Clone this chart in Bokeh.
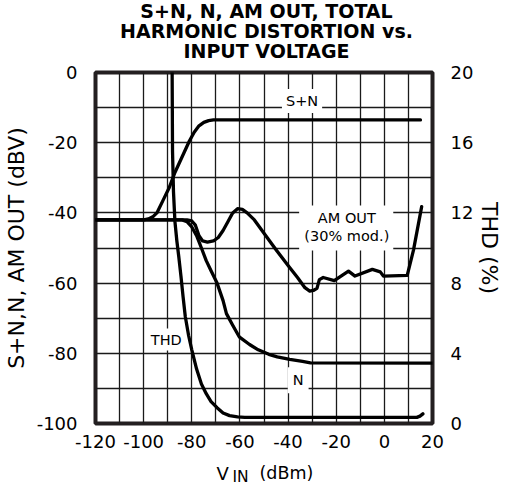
from bokeh.plotting import figure
from bokeh.models import Range1d, LinearAxis, FixedTicker, Label, BoxAnnotation
from bokeh.layouts import column
from bokeh.embed import file_html
from bokeh.resources import INLINE

# ---------------- data ----------------
x_ticks = [-120, -100, -80, -60, -40, -20, 0, 20]
x_grid = [-120, -110, -100, -90, -80, -70, -60, -50, -40, -30, -20, -10, 0, 10, 20]
y_ticks = [-100, -80, -60, -40, -20, 0]
y_grid = [-100, -90, -80, -70, -60, -50, -40, -30, -20, -10, 0]
thd_ticks = [0, 4, 8, 12, 16, 20]

sn_x = [-120, -100, -98, -96, -94.5, -92, -89.5, -87, -84, -81, -79, -77, -75, -73, -71, 15]
sn_y = [-42, -42, -41.7, -41, -40, -36.5, -33, -28.5, -24, -19.5, -17, -15.2, -14.2, -13.7, -13.5, -13.5]

am_x = [-120, -82, -80, -78.5, -77, -75.5, -73.5, -71, -69, -67, -65, -63, -61, -59, -57,
        -54, -50, -45, -40, -36, -33, -31, -29.5, -28, -27, -25.4, -20.8, -14.9, -12.2,
        -5, -1.7, -0.4, 9.5, 12.1, 15.5]
am_y = [-42, -42, -42.3, -43.5, -46.5, -48, -48.3, -48, -47, -45, -42.5, -40, -38.8, -39, -40,
        -42, -45.8, -50.5, -55, -58.5, -61.3, -62.3, -62.1, -61.5, -59, -58.4, -59.3, -56.6, -58,
        -56.1, -56.8, -58, -57.8, -50.6, -38.2]

n_x = [-120, -84, -82, -80, -78, -76, -74, -72, -69.5, -67, -65.6, -63, -60.3, -56, -52.4,
       -48, -44.5, -39.3, -34, -30.7, 20]
n_y = [-42, -42, -42.5, -44, -46.5, -50, -53.6, -56.5, -60, -65, -68.7, -72, -75.3, -77.5, -79,
       -80.3, -81, -81.7, -82.3, -82.7, -82.8]

thd_x = [-88.2, -88.0, -87.6, -87.0, -86.2, -85.4, -84.5, -83.6, -82.7, -81.3, -80.0, -78.0,
         -76.0, -74.0, -72.0, -69.5, -67.0, -64.3, -61.0, -58.0, 13.5, 14.8, 16.0]
thd_y = [21, 15.5, 13.2, 11.5, 10.4, 9.5, 8.4, 7.2, 6.1, 5.0, 4.2, 3.1,
         2.25, 1.7, 1.25, 0.9, 0.6, 0.45, 0.38, 0.35, 0.35, 0.42, 0.55]

title_lines = ["S+N, N, AM OUT, TOTAL", "HARMONIC DISTORTION vs.", "INPUT VOLTAGE"]

FONT = "DejaVu Sans"
INK = "#000000"
W = 505
TOP_H, MAIN_H, BOT_H = 61, 394, 42
FRAME_L, FRAME_R = 89, 443


def text_strip(h):
    """A plain strip (no axes); its data units are the page's pixels."""
    f = figure(width=W, height=h, output_backend="svg", toolbar_location=None, title=None,
               x_axis_type=None, y_axis_type=None, min_border=0, y_range=Range1d(h, 0))
    try:
        f.frame_align = False
        f.x_range = Range1d(0, W)
    except Exception:
        f.x_range = Range1d(FRAME_L, FRAME_R)
    f.outline_line_color = None
    f.background_fill_color = "white"
    f.border_fill_color = "white"
    return f


# ---------------- title strip ----------------
top = text_strip(TOP_H)
for txt, yy in zip(title_lines, [10.8, 30.6, 50.0]):
    top.add_layout(Label(x=266, y=yy, text=txt, text_font=FONT, text_font_size="19px",
                         text_font_style="bold", text_color=INK, text_align="center",
                         text_baseline="middle"))

# ---------------- main chart ----------------
p = figure(width=W, height=MAIN_H, output_backend="svg", toolbar_location=None,
           x_range=Range1d(-120, 20), y_range=Range1d(-100, 0),
           min_border_left=FRAME_L, min_border_right=W - FRAME_R,
           min_border_top=11, min_border_bottom=32)
try:
    p.frame_align = False
except Exception:
    pass
p.title.visible = False
p.extra_y_ranges = {"thd": Range1d(0, 20)}
p.background_fill_color = "white"
p.border_fill_color = "white"
p.outline_line_color = "#231f20"
p.outline_line_width = 4

p.xgrid.ticker = FixedTicker(ticks=x_grid)
p.ygrid.ticker = FixedTicker(ticks=y_grid)
for g in (p.xgrid, p.ygrid):
    g.grid_line_color = "#1a1a1a"
    g.grid_line_width = 1.3
    g.grid_line_alpha = 1.0

p.xaxis.ticker = FixedTicker(ticks=x_ticks)
p.xaxis.major_label_overrides = {t: str(t) for t in x_ticks}
p.yaxis.ticker = FixedTicker(ticks=y_ticks)
p.yaxis.major_label_overrides = {t: str(t) for t in y_ticks}
p.yaxis.axis_label = "S+N,N, AM OUT (dBV)"

right = LinearAxis(y_range_name="thd", ticker=FixedTicker(ticks=thd_ticks), axis_label="THD (%)")
right.major_label_overrides = {t: str(t) for t in thd_ticks}
p.add_layout(right, "right")

for ax in [p.xaxis[0], p.yaxis[0], right]:
    ax.axis_line_color = None
    ax.major_tick_line_color = None
    ax.minor_tick_line_color = None
    ax.major_label_text_font = FONT
    ax.major_label_text_font_size = "18px"
    ax.major_label_text_color = INK
    ax.axis_label_text_font = FONT
    ax.axis_label_text_font_size = "20px"
    ax.axis_label_text_font_style = "normal"
    ax.axis_label_text_color = INK
p.yaxis.axis_label_text_font_size = "22px"
p.xaxis.major_label_standoff = 5
p.yaxis.major_label_standoff = 12
p.yaxis.axis_label_standoff = 5
right.major_label_standoff = 12
right.axis_label_standoff = 1

lw = 3.3
p.line(sn_x, sn_y, line_color=INK, line_width=lw, line_join="round", line_cap="round")
p.line(am_x, am_y, line_color=INK, line_width=lw, line_join="round", line_cap="round")
p.line(n_x, n_y, line_color=INK, line_width=lw, line_join="round", line_cap="round")
p.line(thd_x, thd_y, y_range_name="thd", line_color=INK, line_width=lw,
       line_join="round", line_cap="round")

# white background behind the "AM OUT" block
p.add_layout(BoxAnnotation(left=-35.4, right=3.7, top=-37.9, bottom=-50.7,
                           fill_color="white", fill_alpha=1.0, line_color=None))


def lab(x, y, text, size="14.5px", pad=3, bg=True):
    kw = dict(x=x, y=y, text=text, text_font=FONT, text_font_size=size, text_color=INK,
              text_align="center", text_baseline="middle")
    if bg:
        kw.update(background_fill_color="white", background_fill_alpha=1.0, padding=pad)
    p.add_layout(Label(**kw))


lab(-34.2, -8.1, "S+N", pad=4)
lab(-15.6, -41.4, "AM OUT", bg=False)
lab(-15.6, -46.6, "(30% mod.)", bg=False)
lab(-90.6, -76.1, "THD", pad=3)
lab(-35.8, -87.7, "N", pad=5)

# ---------------- x-axis title strip: V with subscript IN ----------------
bot = text_strip(BOT_H)
for txt, xx, yy, fs in [("V", 216, 17.5, "18px"), ("IN", 232, 21.5, "15.5px"),
                        ("(dBm)", 259, 17.5, "17.5px")]:
    bot.add_layout(Label(x=xx, y=yy, text=txt, text_font=FONT, text_font_size=fs,
                         text_color=INK, text_align="left", text_baseline="middle"))

layout = column(top, p, bot, spacing=0)
open("out.html", "w").write(file_html(layout, INLINE))
